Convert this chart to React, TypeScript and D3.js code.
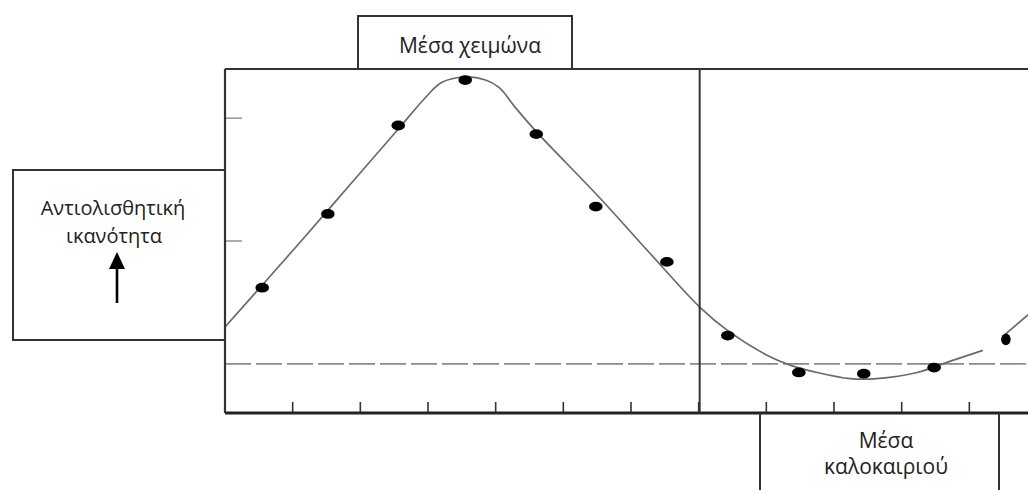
import React from "react";
import * as d3 from "d3";

// Measured dots (month index, skid resistance in arbitrary units)
const dotX = [0.55, 1.52, 2.56, 3.55, 4.6, 5.48, 6.53, 7.43, 8.48, 9.44, 10.48, 11.54];
const dotY = [1.62, 2.22, 2.94, 3.31, 2.87, 2.28, 1.83, 1.23, 0.93, 0.92, 0.97, 1.2];
const dotR = [1, 1, 1, 1, 1, 1, 1, 1, 1, 1, 1, 0.7];

// Fitted curve (null = break in the drawn line)
const curveX = [0, 1.11, 1.85, 2.59, 2.95, 3.2, 3.55, 3.85, 4.05, 4.3, 4.6, 5.54, 6.28, 7.02, 7.43, 8.01, 8.35, 8.75, 9.24, 9.63, 10.23, 10.71, 11.2, null, 11.53, 11.87];
const curveY = [1.3, 1.99, 2.46, 2.93, 3.16, 3.29, 3.335, 3.31, 3.25, 3.08, 2.89, 2.35, 1.9, 1.46, 1.27, 1.07, 0.99, 0.93, 0.88, 0.88, 0.93, 1.02, 1.11, null, 1.24, 1.4];

const thresholdY = 1.0; // dashed reference level
const xTicks = [1, 2, 3, 4, 5, 6, 7, 8, 9, 10, 11];
const yTicks = [2, 3];
const dividerX = 7;

const winterLabel = "Μέσα χειμώνα";
const summerLabel = ["Μέσα", "καλοκαιριού"];
const yLabel = ["Αντιολισθητική", "ικανότητα"];

const W = 1028;
const H = 490;
const left = 225;
const top = 69;
const bottom = 413;

export default function App() {
  const x = d3.scaleLinear().domain([0, 12]).range([left, 1037]);
  const y = d3.scaleLinear().domain([0.6, 3.4]).range([bottom, top]);

  const pts = curveX.map((cx, i) => ({ x: cx, y: curveY[i] }));
  const line = d3
    .line<{ x: number | null; y: number | null }>()
    .defined((d) => d.x !== null && d.y !== null)
    .x((d) => x(d.x as number))
    .y((d) => y(d.y as number))
    .curve(d3.curveCatmullRom.alpha(0.5));

  const dark = "#333";
  const font = "'Open Sans', 'Noto Sans', sans-serif";
  const fs = 21;

  return (
    <svg
      width={W}
      height={H}
      style={{ position: "absolute", left: 0, top: 0, background: "#fff" }}
      fontFamily={font}
    >
      <rect x={0} y={0} width={W} height={H} fill="#fff" />

      {/* dashed threshold */}
      <line
        x1={left}
        x2={W}
        y1={y(thresholdY)}
        y2={y(thresholdY)}
        stroke="#8a8a8a"
        strokeWidth={1.6}
        strokeDasharray="26 5"
      />

      {/* y ticks */}
      {yTicks.map((t) => (
        <line key={t} x1={left} x2={left + 17} y1={y(t)} y2={y(t)} stroke="#999" strokeWidth={1.6} />
      ))}

      {/* x ticks */}
      {xTicks.map((t) => (
        <line key={t} x1={x(t)} x2={x(t)} y1={bottom} y2={bottom - 11} stroke={dark} strokeWidth={1.6} />
      ))}

      {/* curve */}
      <path d={line(pts) || ""} fill="none" stroke="#6a6a6a" strokeWidth={1.7} />

      {/* dots */}
      {dotX.map((dx, i) => (
        <ellipse key={i} cx={x(dx)} cy={y(dotY[i])} rx={6.8 * dotR[i]} ry={4.9 * (dotR[i] === 1 ? 1 : 1.2)} fill="#000" />
      ))}

      {/* frame */}
      <line x1={left} x2={W} y1={top} y2={top} stroke={dark} strokeWidth={2.2} />
      <line x1={left} x2={left} y1={top} y2={bottom} stroke={dark} strokeWidth={2.2} />
      <line x1={left} x2={W} y1={bottom} y2={bottom} stroke="#222" strokeWidth={2.8} />
      <line x1={x(dividerX) + 1} x2={x(dividerX) + 1} y1={top} y2={bottom} stroke={dark} strokeWidth={2} />

      {/* top box */}
      <path d={`M358,${top} V16 H572 V${top}`} fill="none" stroke={dark} strokeWidth={2} />
      <text x={470} y={53} textAnchor="middle" fontSize={fs} fill="#222">
        {winterLabel}
      </text>

      {/* left box */}
      <path d={`M${left},170 H13 V340 H${left}`} fill="none" stroke={dark} strokeWidth={2} />
      <text x={113} y={215} textAnchor="middle" fontSize={20} fill="#222">
        {yLabel[0]}
      </text>
      <text x={114} y={243} textAnchor="middle" fontSize={20} fill="#222">
        {yLabel[1]}
      </text>
      <line x1={117} x2={117} y1={303} y2={265} stroke="#000" strokeWidth={2.6} />
      <polygon points="117,252 109,269 125,269" fill="#000" />

      {/* bottom box */}
      <path d={`M760,${H} V${bottom} M999,${bottom} V${H}`} fill="none" stroke={dark} strokeWidth={2} />
      <text x={886} y={448} textAnchor="middle" fontSize={fs} fill="#222">
        {summerLabel[0]}
      </text>
      <text x={886} y={474} textAnchor="middle" fontSize={fs} fill="#222">
        {summerLabel[1]}
      </text>
    </svg>
  );
}
